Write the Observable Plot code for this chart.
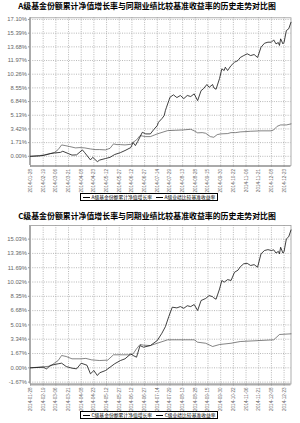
<!DOCTYPE html>
<html><head><meta charset="utf-8">
<script src="https://cdn.jsdelivr.net/npm/d3@7"></script>
<script src="https://cdn.jsdelivr.net/npm/@observablehq/plot@0.6"></script>
<style>
body{margin:0;background:#fff;}
#page{position:relative;width:300px;height:423px;overflow:hidden;background:#fff;}
.title{position:absolute;left:0;width:294px;text-align:center;font-family:"Noto Sans CJK SC";font-weight:bold;font-size:7.9px;line-height:10px;color:#000;white-space:nowrap;z-index:2}
.chart{position:absolute;left:0;}
.legend{position:absolute;border:1px solid #000;box-sizing:border-box;height:8px;display:flex;align-items:center;font-family:"Noto Sans CJK SC";font-size:4.8px;line-height:6px;white-space:nowrap;color:#000;background:#fff}
.legend .sw{display:inline-block;width:7px;border-top:1px solid #000;margin:0 1.5px 0 2px}
</style></head>
<body><div id="page"></div>
<script>
// x axis: trading-day index (0 = 2014-01-28 ... 226 = 2014-12-31)
const tickDays = [0,11,22,33,44,55,66,77,88,99,110,121,132,143,154,165,176,187,198,209,220];
const tickLabels = ["2014-01-28","2014-02-19","2014-03-06","2014-03-21","2014-04-08","2014-04-23","2014-05-12","2014-05-27","2014-06-12","2014-06-27","2014-07-14","2014-07-29","2014-08-13","2014-08-28","2014-09-15","2014-09-30","2014-10-22","2014-11-06","2014-11-21","2014-12-08","2014-12-23"];

const titleA = "A级基金份额累计净值增长率与同期业绩比较基准收益率的历史走势对比图";
const titleC = "C级基金份额累计净值增长率与同期业绩比较基准收益率的历史走势对比图";
const legendA = ["A级基金份额累计净值增长率","A级业绩比较基准收益率"];
const legendC = ["C级基金份额累计净值增长率","C级业绩比较基准收益率"];

const yTicksA = [0,1.71,3.42,5.13,6.84,8.55,10.26,11.97,13.68,15.39,17.10];
const yTicksC = [-1.67,0,1.67,3.34,5.01,6.68,8.35,10.02,11.69,13.36,15.03];

// [day index, cumulative return %]
const fundA = [[0,0],[8,0.05],[12,0.13],[17,0.33],[21,0.42],[26,0.49],[28,0.63],[33,0.33],[36,0.15],[40,0.18],[45,0.8],[47,0.46],[52,-0.45],[54,-0.13],[58,-0.67],[60,-0.47],[65,-0.28],[69,-0.13],[73,0.22],[78,0.46],[82,0.72],[87,1.09],[89,1.72],[91,1.34],[93,1.84],[97,3.0],[100,2.8],[104,2.8],[107,3.35],[110,3.84],[111,4.25],[114,4.71],[116,5.09],[117,5.71],[118,6.13],[120,6.96],[121,7.38],[124,7.68],[127,7.34],[130,7.6],[133,7.21],[136,7.6],[139,7.47],[142,7.8],[145,6.96],[148,8.21],[150,8.43],[153,8.97],[155,8.62],[158,8.97],[159,8.56],[161,8.38],[164,9.72],[166,10.93],[168,10.72],[169,11.13],[171,10.72],[174,11.34],[177,11.76],[180,11.97],[182,12.35],[185,12.59],[188,12.81],[191,12.59],[194,12.72],[197,12.35],[200,13.63],[203,14.13],[206,14.26],[209,14.26],[211,14.55],[213,14.05],[215,14.22],[216,13.85],[217,14.68],[219,14.05],[220,14.26],[222,15.72],[224,15.93],[226,16.75]];
const benchA = [[0,0],[8,0.09],[12,0.18],[17,0.33],[21,0.5],[24,0.84],[27,1.42],[30,1.34],[34,1.22],[39,1.05],[43,1.09],[47,1.05],[52,0.92],[56,0.84],[60,0.84],[65,0.8],[69,1.0],[72,1.55],[75,1.46],[78,1.46],[82,1.42],[87,1.5],[89,1.75],[92,2.05],[95,2.59],[100,2.46],[104,2.46],[110,2.8],[119,3.21],[126,3.25],[133,3.3],[139,3.38],[142,3.18],[145,2.93],[149,2.96],[152,2.88],[156,2.46],[159,2.38],[162,2.71],[165,2.8],[171,2.84],[174,2.96],[178,2.96],[182,3.05],[187,3.09],[191,3.13],[200,3.18],[209,3.18],[211,3.3],[214,3.75],[217,3.92],[222,3.92],[226,4.05]];
const fundC = [[0,0],[11,0.07],[14,-0.12],[17,0.27],[24,0.47],[27,0.54],[31,0.15],[36,-0.04],[40,-0.12],[44,0.54],[49,0.3],[52,-0.7],[55,-0.32],[58,-0.9],[60,-0.58],[65,-0.32],[69,0.07],[73,0.47],[78,0.85],[82,1.05],[87,1.63],[89,1.44],[92,1.24],[95,2.6],[98,2.41],[104,2.6],[110,3.19],[114,4.04],[117,4.8],[120,6.0],[123,7.08],[127,7.0],[130,7.15],[133,6.95],[136,7.25],[139,7.15],[142,7.39],[145,6.69],[148,7.86],[152,8.1],[155,8.44],[158,8.3],[159,8.17],[161,8.01],[164,9.2],[166,10.2],[168,10.0],[171,10.3],[174,10.2],[177,11.16],[180,11.4],[182,11.8],[185,12.15],[188,12.2],[191,11.95],[194,12.05],[197,11.75],[200,13.31],[203,13.7],[206,13.8],[209,13.7],[211,13.78],[213,13.4],[215,13.6],[216,13.31],[217,14.08],[219,13.4],[220,13.6],[222,15.06],[224,15.3],[226,16.1]];
const benchC = [[0,0],[17,0.19],[24,0.85],[27,1.44],[31,1.32],[36,1.05],[44,1.05],[48,1.1],[53,0.93],[60,0.85],[67,0.9],[72,1.52],[80,1.52],[87,1.52],[89,1.63],[92,2.22],[95,2.72],[98,2.65],[104,2.6],[110,2.87],[119,3.27],[142,3.27],[145,2.99],[152,2.87],[158,2.49],[164,2.72],[174,2.87],[182,3.07],[211,3.27],[216,3.89],[226,3.97]];

const page = document.getElementById("page");

function addDiv(cls, css, html) {
  const d = document.createElement("div");
  d.className = cls; d.style.cssText = css; d.innerHTML = html;
  page.appendChild(d); return d;
}

function drawChart({fund, bench, yTicks, yDomain, top, height, mt, mb}) {
  const plot = Plot.plot({
    width: 300, height, marginLeft: 30, marginRight: 9.5, marginTop: mt, marginBottom: mb,
    style: {background: "transparent", fontFamily: "'Liberation Sans', Arial, sans-serif", color: "#666"},
    x: {domain: [0, 226]},
    y: {domain: yDomain},
    marks: [
      Plot.gridY(yTicks, {stroke: "#888", strokeOpacity: 1, strokeWidth: 0.6, strokeDasharray: "1,1.3"}),
      Plot.gridX(tickDays, {stroke: "#888", strokeOpacity: 1, strokeWidth: 0.6, strokeDasharray: "1,1.3"}),
      Plot.frame({stroke: "#999", strokeWidth: 0.8}),
      Plot.ruleX([0], {stroke: "#aaa", strokeWidth: 2, dx: -0.5}),
      Plot.ruleY([yDomain[0]], {stroke: "#aaa", strokeWidth: 2, dy: 0.5}),
      Plot.axisY({ticks: yTicks, tickFormat: d => d.toFixed(2) + "%", tickSize: 2, tickPadding: 1.5, fontSize: 5.8, stroke: "#999", label: null}),
      Plot.axisX({ticks: tickDays, tickFormat: d => tickLabels[tickDays.indexOf(d)], tickRotate: -90, tickSize: 2, tickPadding: 1.5, fontSize: 4.6, stroke: "#999", label: null}),
      Plot.line(bench, {x: d => d[0], y: d => d[1], stroke: "#333", strokeWidth: 0.6}),
      Plot.line(fund, {x: d => d[0], y: d => d[1], stroke: "#111", strokeWidth: 0.8})
    ]
  });
  plot.classList.add("chart");
  plot.style.top = top + "px";
  page.appendChild(plot);
}

drawChart({fund: fundA, bench: benchA, yTicks: yTicksA, yDomain: [-1.15, 17.31], top: 0, height: 193, mt: 17.3, mb: 28});
drawChart({fund: fundC, bench: benchC, yTicks: yTicksC, yDomain: [-1.89, 16.62], top: 200, height: 211, mt: 25, mb: 27.5});

addDiv("title", "top:1px", titleA);
addDiv("title", "top:211px", titleC);

function legend(items, top) {
  addDiv("legend", `left:80px;top:${top}px;width:138px`,
    `<span class="sw"></span><span>${items[0]}</span><span class="sw" style="margin-left:4px"></span><span>${items[1]}</span>`);
}
legend(legendA, 193);
legend(legendC, 411);
</script>
</body></html>
